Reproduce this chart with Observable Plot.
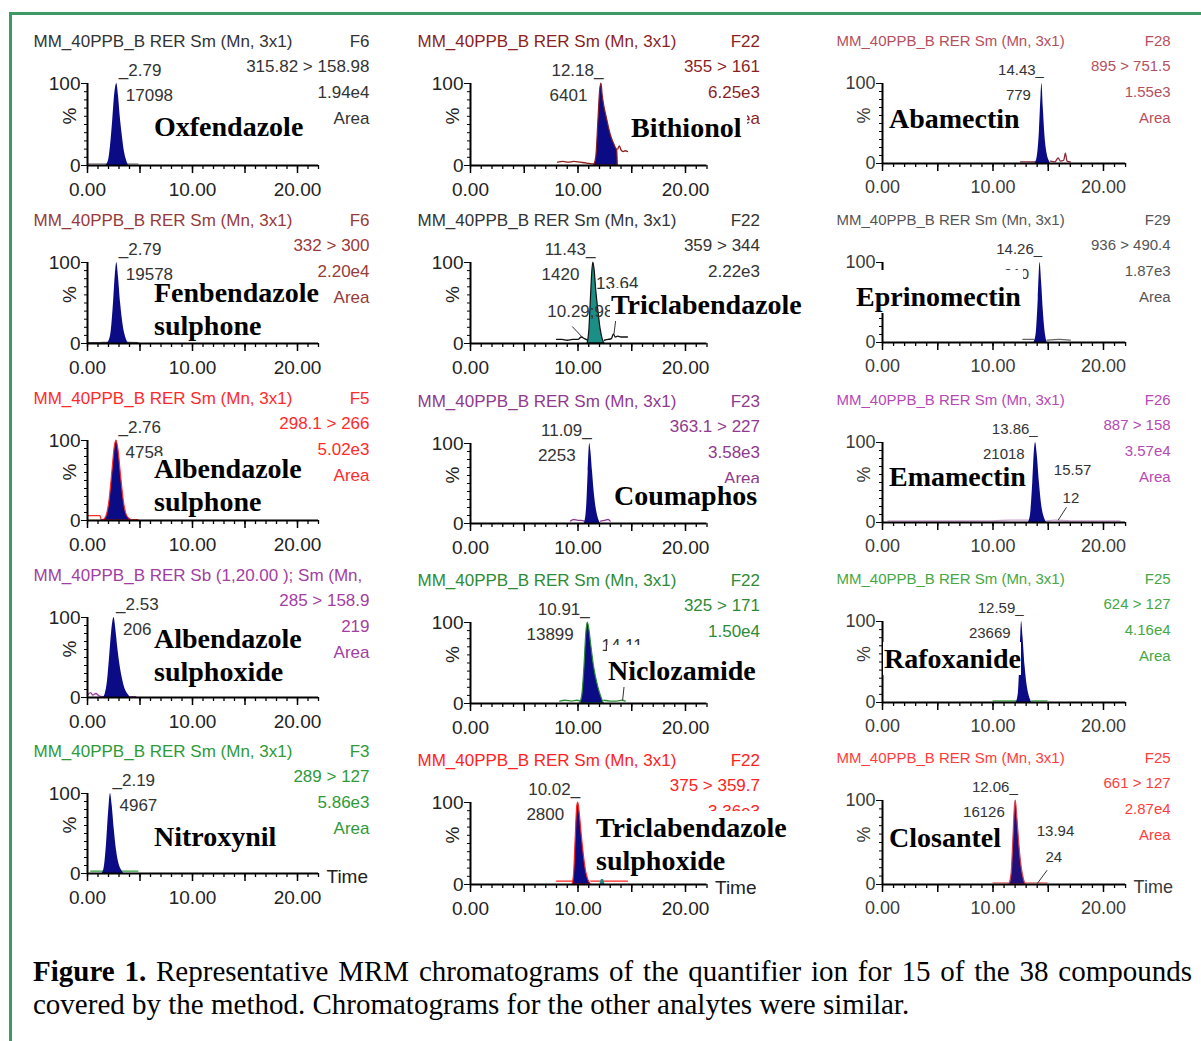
<!DOCTYPE html>
<html><head><meta charset="utf-8">
<script src="https://cdn.jsdelivr.net/npm/d3@7"></script>
<script src="https://cdn.jsdelivr.net/npm/@observablehq/plot@0.6"></script>
<style>
body{margin:0;background:#fff;}
#fig{position:relative;width:1201px;height:1041px;overflow:hidden;background:#fff;}
#frame{position:absolute;left:9px;top:12px;width:1200px;height:1100px;border-left:3px solid #3e9a63;border-top:3px solid #3e9a63;}
.name{position:absolute;font-family:"Liberation Serif","Times New Roman",serif;font-weight:bold;font-size:28px;line-height:33px;background:#fff;color:#000;white-space:nowrap;padding:0 6px 0 1px;}
.cap{position:absolute;left:33px;width:1159px;font-family:"Liberation Serif","Times New Roman",serif;font-size:29px;line-height:33px;color:#000;white-space:nowrap;}
</style></head><body><div id="fig"><div id="frame"></div></div>
<script>
// ---------- DATA ----------
const compounds = ["Oxfendazole","Fenbendazole sulphone","Albendazole sulphone","Albendazole sulphoxide","Nitroxynil",
  "Bithionol","Triclabendazole","Coumaphos","Niclozamide","Triclabendazole sulphoxide",
  "Abamectin","Eprinomectin","Emamectin","Rafoxanide","Closantel"];
const stdTitle = "MM_40PPB_B RER Sm (Mn, 3x1)";
const titles = [stdTitle, stdTitle, stdTitle, "MM_40PPB_B RER Sb (1,20.00 ); Sm (Mn,", stdTitle,
  stdTitle, stdTitle, stdTitle, stdTitle, stdTitle,
  stdTitle, stdTitle, stdTitle, stdTitle, stdTitle];
const functionIds = ["F6","F6","F5","","F3","F22","F22","F23","F22","F22","F28","F29","F26","F25","F25"];
const transitions = ["315.82 > 158.98","332 > 300","298.1 > 266","285 > 158.9","289 > 127",
  "355 > 161","359 > 344","363.1 > 227","325 > 171","375 > 359.7",
  "895 > 751.5","936 > 490.4","887 > 158","624 > 127","661 > 127"];
const intensities = ["1.94e4","2.20e4","5.02e3","219","5.86e3","6.25e3","2.22e3","3.58e3","1.50e4","3.36e3",
  "1.55e3","1.87e3","3.57e4","4.16e4","2.87e4"];
const scaleWord = "Area";
const apexTimes = [2.79,2.79,2.76,2.53,2.19,12.18,11.43,11.09,10.91,10.02,14.43,14.26,13.86,12.59,12.06];
const apexCounts = ["17098","19578","4758","206","4967","6401","1420","2253","13899","2800","779","910","21018","23669","16126"];

// peaks: [time (min), relative intensity (%)]
const peakOxfendazole = [[1.75,0],[2.0,6],[2.2,25],[2.4,55],[2.6,88],[2.79,100],[2.95,85],[3.1,62],[3.3,38],[3.5,18],[3.7,7],[3.9,0]];
const peakFenbendazoleSulphone = [[1.9,0],[2.2,10],[2.45,45],[2.65,85],[2.79,100],[2.95,82],[3.15,50],[3.4,22],[3.65,7],[3.9,0]];
const peakAlbendazoleSulphone = [[1.5,0],[1.8,5],[2.1,25],[2.4,65],[2.6,92],[2.76,100],[2.95,88],[3.2,55],[3.45,25],[3.7,8],[4.0,2],[4.3,0]];
const peakAlbendazoleSulphoxide = [[1.5,0],[1.7,5],[1.9,20],[2.1,50],[2.3,82],[2.53,100],[2.7,85],[2.9,60],[3.1,40],[3.35,22],[3.6,10],[3.85,4],[4.1,0]];
const peakNitroxynil = [[1.4,0],[1.6,8],[1.8,35],[2.0,75],[2.19,100],[2.35,85],[2.55,55],[2.75,30],[3.0,12],[3.25,4],[3.45,0]];
const peakBithionol = [[11.5,0],[11.7,10],[11.9,55],[12.05,90],[12.18,100],[12.3,85],[12.45,72],[12.65,60],[12.9,45],[13.1,35],[13.3,28],[13.5,22],[13.65,18],[13.7,0]];
const peakTriclabendazole = [[10.9,0],[11.05,15],[11.2,55],[11.35,92],[11.43,100],[11.55,90],[11.7,65],[11.9,40],[12.1,18],[12.3,5],[12.45,0]];
const peakCoumaphos = [[10.6,0],[10.8,20],[10.95,65],[11.09,100],[11.2,90],[11.35,65],[11.5,40],[11.7,18],[11.9,6],[12.1,0]];
const peakNiclozamide = [[10.2,0],[10.4,10],[10.6,45],[10.78,88],[10.91,100],[11.05,92],[11.25,70],[11.5,45],[11.75,28],[12.0,15],[12.2,7],[12.4,0]];
const peakTriclabendazoleSulphoxide = [[9.5,0],[9.65,15],[9.8,60],[9.93,95],[10.02,100],[10.15,88],[10.35,60],[10.55,35],[10.75,16],[10.95,6],[11.2,0]];
const peakAbamectin = [[13.8,0],[14.0,8],[14.2,40],[14.35,85],[14.43,100],[14.55,70],[14.7,35],[14.9,12],[15.1,3],[15.2,0]];
const peakEprinomectin = [[13.7,0],[13.9,10],[14.1,55],[14.26,100],[14.4,75],[14.55,40],[14.7,15],[14.9,0]];
const peakEmamectin = [[13.2,0],[13.4,10],[13.6,50],[13.75,90],[13.86,100],[14.0,85],[14.2,50],[14.4,22],[14.6,8],[14.85,0]];
const peakRafoxanide = [[12.1,0],[12.3,12],[12.45,55],[12.59,100],[12.72,80],[12.9,45],[13.1,20],[13.3,7],[13.5,0]];
const peakClosantel = [[11.5,0],[11.7,15],[11.85,55],[12.0,95],[12.06,100],[12.2,80],[12.4,45],[12.6,20],[12.8,6],[12.95,0]];
const minorPeakTriclabendazoleSulphoxide = [[12.05,0],[12.2,6],[12.35,6],[12.5,0]];

// raw traces outside the integrated peak (null = gap)
const traceOxfendazole = [[0.1,2],[1.0,2],[2.0,2],[3.0,2],[3.9,2],[4.8,2]];
const traceFenbendazoleSulphone = [[0.1,1],[1.0,1],[1.9,1.5],[3.9,1.5],[4.8,1]];
const traceAlbendazoleSulphone = [[0.0,6],[1.2,6],[1.3,1],[1.5,1],null,[4.3,1],[4.8,1]];
const traceAlbendazoleSulphoxide = [[0.0,3],[0.3,6],[0.5,3],[0.8,5],[1.1,2],[1.5,1],null,[4.1,1],[4.6,1]];
const traceNitroxynil = [[0.3,3],[1.4,3],[2.5,3],[3.45,3],[4.8,3]];
const traceBithionol = [[8.1,4],[8.6,5],[9.1,4],[9.6,5],[10.2,4],[10.8,3],[11.3,2],[11.5,2],null,[13.7,20],[13.85,24],[14.0,19],[14.2,17],[14.4,18],[14.6,17]];
const traceTriclabendazole = [[8.0,5],[8.5,5],[9.0,4],[9.5,5],[10.0,5],[10.3,8],[10.6,6],[10.9,4],null,[12.45,4],[12.8,5],[13.1,6],[13.3,12],[13.45,8],[13.7,9],[14.0,8],[14.6,8]];
const traceCoumaphos = [[9.3,3],[9.6,5],[10.0,4],[10.3,4],[10.6,3],null,[12.1,3],[12.5,4],[12.8,5],[13.0,3]];
const traceNiclozamide = [[8.3,3],[8.8,4],[9.4,3],[9.9,4],[10.2,3],null,[12.4,4],[13.0,3],[13.6,3],[14.1,4],[14.4,3]];
const traceTriclabendazoleSulphoxide = [[8.0,4],[9.0,4],[9.5,4],null,[11.2,4],[12.0,4],[12.5,4],[13.5,4],[14.6,4]];
const traceAbamectin = [[12.5,2],[13.8,2],null,[15.2,3],[15.6,2],[15.9,7],[16.1,3],[16.4,4],[16.55,13],[16.7,3],[17.0,2]];
const traceEprinomectin = [[12.7,4],[13.7,4],null,[14.9,3],[16.0,4],[17.0,3]];
const traceEmamectin = [[0.5,2],[5.0,2],[10.0,2],[11.5,3],[13.2,3],null,[14.85,2],[15.6,3],[17.0,2],[21.5,2]];
const traceRafoxanide = [[10.0,2],[11.0,2],[12.1,2],null,[13.5,2],[14.9,2]];
const traceClosantel = [[10.0,2],[11.0,2],[11.5,2],null,[12.95,2],[14.0,2],[14.9,2]];

const peaks = [peakOxfendazole,peakFenbendazoleSulphone,peakAlbendazoleSulphone,peakAlbendazoleSulphoxide,peakNitroxynil,
  peakBithionol,peakTriclabendazole,peakCoumaphos,peakNiclozamide,peakTriclabendazoleSulphoxide,
  peakAbamectin,peakEprinomectin,peakEmamectin,peakRafoxanide,peakClosantel];
const traces = [traceOxfendazole,traceFenbendazoleSulphone,traceAlbendazoleSulphone,traceAlbendazoleSulphoxide,traceNitroxynil,
  traceBithionol,traceTriclabendazole,traceCoumaphos,traceNiclozamide,traceTriclabendazoleSulphoxide,
  traceAbamectin,traceEprinomectin,traceEmamectin,traceRafoxanide,traceClosantel];

const xMinorTicks = [0,1,2,3,4,5,6,7,8,9,10,11,12,13,14,15,16,17,18,19,20,21,22];
const xMajorTicks = [0,5,10,15,20];
const xTickLabels = [0,10,20];
const yTickLabels = [0,100];
const yMinorTicks = [0,10,20,30,40,50,60,70,80,90,100];

// secondary peak labels and their leader lines
const minorLabels = [
  {panel:6, t:10.22, v:40, text:"10.29;98", anchor:"end"},
  {panel:6, t:13.65, v:74, text:"13.64", anchor:"start"},
  {panel:8, t:14.1, v:72, text:"14.11", anchor:"start"},
  {panel:12, t:17.2, v:65, text:"15.57", anchor:"middle"},
  {panel:12, t:17.05, v:31, text:"12", anchor:"middle"},
  {panel:14, t:15.66, v:64, text:"13.94", anchor:"middle"},
  {panel:14, t:15.5, v:32, text:"24", anchor:"middle"}
];
const leaders = [
  {panel:6, t1:9.46, v1:21, t2:10.39, v2:8},
  {panel:6, t1:13.35, v1:12, t2:13.8, v2:60},
  {panel:8, t1:14.15, v1:4, t2:14.6, v2:60},
  {panel:12, t1:15.9, v1:3, t2:16.65, v2:19},
  {panel:14, t1:14.0, v1:1, t2:14.9, v2:17}
];

// ---------- LAYOUT & STYLE ----------
const layout = [
  {ax:87,ppm:10.5,y100:83,y0:165},{ax:87,ppm:10.5,y100:262,y0:343},{ax:87,ppm:10.5,y100:440,y0:520},{ax:87,ppm:10.5,y100:617,y0:697},{ax:87,ppm:10.5,y100:793,y0:873},
  {ax:470,ppm:10.75,y100:83,y0:165},{ax:470,ppm:10.75,y100:262,y0:343},{ax:470,ppm:10.75,y100:443,y0:523},{ax:470,ppm:10.75,y100:622,y0:703},{ax:470,ppm:10.75,y100:802,y0:884},
  {ax:882,ppm:11.05,y100:83,y0:163},{ax:882,ppm:11.05,y100:262,y0:342},{ax:882,ppm:11.05,y100:442,y0:522},{ax:882,ppm:11.05,y100:621,y0:702},{ax:882,ppm:11.05,y100:800,y0:884}
];
const colStyle = [
  {titleDx:-54, rightDx:51, fs:17, tfs:19, ink:"#222", timeAnchor:"start", timeDx:2, countAnchor:"start", countDx:9, timeFmt:t=>"_"+t.toFixed(2)},
  {titleDx:-53, rightDx:53, fs:17, tfs:19, ink:"#222", timeAnchor:"end", timeDx:2, countAnchor:"end", countDx:-14, timeFmt:t=>t.toFixed(2)+"_"},
  {titleDx:-46, rightDx:45, fs:15, tfs:18, ink:"#3a3a3a", timeAnchor:"end", timeDx:2, countAnchor:"end", countDx:-11, timeFmt:t=>t.toFixed(2)+"_"}
];
const headerColors = ["#333333","#973a3a","#ff2a2a","#a23ea2","#2e9a38",
  "#8b1f1f","#333333","#8f3a8f","#2e8b35","#ff2222",
  "#b4505e","#555555","#b549b5","#45a845","#ff3d3d"];
const fillColors = ["#0b0b85","#0b0b85","#0b0b85","#0b0b85","#0b0b85",
  "#0b0b85","#1b8f86","#0b0b85","#0b0b85","#0b0b85",
  "#0b0b85","#0b0b85","#0b0b85","#0b0b85","#22107a"];
const outlineColors = ["none","none","#ff2a2a","none","none",
  "#8b1f1f","#111111","none","#2e8b35","#ff2222",
  "none","none","none","none","#d84050"];
const traceColors = ["#8a8a8a","#555555","#ff2a2a","#a23ea2","#2e9a38",
  "#8b1f1f","#111111","#8f3a8f","#2e8b35","#ff2222",
  "#8b2a3a","#666666","#c9a0c9","#45a845","#e87070"];
// name boxes: x, centre y of first line, extra top cover, top clip, right padding
const names = [
  {x:153,y:126,lines:["Oxfendazole"],padTop:0,cut:0,padR:6},
  {x:153,y:292,lines:["Fenbendazole","sulphone"],padTop:0,cut:4,padR:6},
  {x:153,y:468,lines:["Albendazole","sulphone"],padTop:0,cut:4,padR:6},
  {x:153,y:638,lines:["Albendazole","sulphoxide"],padTop:0,cut:0,padR:6},
  {x:153,y:836,lines:["Nitroxynil"],padTop:0,cut:0,padR:6},
  {x:630,y:127,lines:["Bithionol"],padTop:0,cut:0,padR:6},
  {x:610,y:304,lines:["Triclabendazole"],padTop:0,cut:0,padR:6},
  {x:613,y:495,lines:["Coumaphos"],padTop:0,cut:4,padR:6},
  {x:607,y:670,lines:["Niclozamide"],padTop:9,cut:0,padR:6},
  {x:595,y:827,lines:["Triclabendazole","sulphoxide"],padTop:0,cut:0,padR:6},
  {x:888,y:118,lines:["Abamectin"],padTop:0,cut:0,padR:2},
  {x:855,y:296,lines:["Eprinomectin"],padTop:10,cut:0,padR:2},
  {x:888,y:476,lines:["Emamectin"],padTop:0,cut:0,padR:2},
  {x:883,y:658,lines:["Rafoxanide"],padTop:0,cut:0,padR:0},
  {x:888,y:837,lines:["Closantel"],padTop:0,cut:0,padR:2}
];
const font = "'Liberation Sans', Arial, sans-serif";
const fig = document.getElementById("fig");

function headerText(value, anchor, dx, dy, color, fs) {
  return Plot.text([value], {frameAnchor: anchor, dx, dy, text: d => d, lineAnchor: "middle",
    textAnchor: anchor.endsWith("left") ? "start" : "end", fill: color, fontSize: fs});
}

function buildPanel(i) {
  const L = layout[i], col = Math.floor(i / 5), row = i % 5, C = colStyle[col];
  const mL = 60, mR = 70, mT = 50, mB = 42;
  const h = L.y0 - L.y100;
  const width = mL + 22 * L.ppm + mR;
  const hc = headerColors[i];
  const X = d => d ? d[0] : NaN, Y = d => d ? d[1] : NaN;
  const marks = [
    Plot.line(traces[i], {x: X, y: Y, stroke: traceColors[i], strokeWidth: 1.3, curve: "monotone-x"}),
    Plot.areaY(peaks[i], {x: X, y: Y, fill: fillColors[i], stroke: outlineColors[i], strokeWidth: 1.2, curve: "monotone-x"})
  ];
  if (i === 9) marks.push(Plot.areaY(minorPeakTriclabendazoleSulphoxide, {x: X, y: Y, fill: "#1b8f86", curve: "monotone-x"}));
  marks.push(
    Plot.ruleY([0], {stroke: "#000", strokeWidth: 2}),
    Plot.ruleX([0], {stroke: "#000", strokeWidth: 2}),
    Plot.axisX({ticks: xMinorTicks, tickSize: 4, tickFormat: () => "", stroke: "#000", strokeWidth: 1.3}),
    Plot.axisX({ticks: xMajorTicks, tickSize: 8, tickFormat: () => "", stroke: "#000", strokeWidth: 1.5}),
    Plot.axisX({ticks: xTickLabels, tickSize: 0, tickPadding: 17, tickFormat: d => d.toFixed(2), fontSize: C.tfs, fill: C.ink}),
    Plot.axisY({ticks: yMinorTicks, tickSize: 3, tickFormat: () => "", stroke: "#000"}),
    Plot.axisY({ticks: yTickLabels, tickSize: 6, tickPadding: 1, tickFormat: d => String(d), fontSize: C.tfs, fill: C.ink, stroke: "#000"}),
    Plot.text(["%"], {frameAnchor: "left", dx: -18, rotate: -90, text: d => d, fontSize: C.tfs, fill: C.ink}),
    headerText(titles[i], "top-left", C.titleDx, -42, hc, C.fs),
    headerText(functionIds[i], "top-right", C.rightDx, -42, hc, C.fs),
    headerText(transitions[i], "top-right", C.rightDx, -17, hc, C.fs),
    headerText(intensities[i], "top-right", C.rightDx, 9, hc, C.fs),
    headerText(scaleWord, "top-right", C.rightDx, 35, hc, C.fs),
    Plot.text([apexTimes[i]], {x: d => d, y: 100, text: C.timeFmt, textAnchor: C.timeAnchor, dx: C.timeDx, dy: -13, fill: "#333", fontSize: C.fs}),
    Plot.text([apexCounts[i]], {x: apexTimes[i], y: 100, text: d => d, textAnchor: C.countAnchor, dx: C.countDx, dy: 12, fill: "#333", fontSize: C.fs}),
    Plot.text(minorLabels.filter(a => a.panel === i), {x: "t", y: "v", text: "text", textAnchor: d => d.anchor, fill: "#333", fontSize: C.fs}),
    Plot.link(leaders.filter(a => a.panel === i), {x1: "t1", y1: "v1", x2: "t2", y2: "v2", stroke: "#333", strokeWidth: 1})
  );
  if (row === 4) marks.push(Plot.text(["Time"], {frameAnchor: "bottom-right", dx: 8, dy: 3, lineAnchor: "middle", text: d => d, textAnchor: "start", fill: C.ink, fontSize: C.tfs}));
  const svg = Plot.plot({
    width, height: mT + h + mB, marginLeft: mL, marginRight: mR, marginTop: mT, marginBottom: mB,
    x: {domain: [0, 22]}, y: {domain: [0, 100]},
    style: {fontFamily: font, fontSize: C.fs + "px", overflow: "visible", background: "transparent", color: "#000"},
    marks
  });
  svg.style.position = "absolute";
  svg.style.left = (L.ax - mL) + "px";
  svg.style.top = (L.y100 - mT) + "px";
  fig.appendChild(svg);
}
for (let i = 0; i < compounds.length; i++) buildPanel(i);

names.forEach(n => {
  const d = document.createElement("div");
  d.className = "name";
  d.style.left = n.x + "px";
  d.style.top = (n.y - 16 - n.padTop) + "px";
  d.style.paddingTop = n.padTop + "px";
  d.style.paddingRight = n.padR + "px";
  if (n.cut) d.style.clipPath = "inset(" + n.cut + "px 0 0 0)";
  d.innerHTML = n.lines.join("<br>");
  fig.appendChild(d);
});

const cap1 = document.createElement("div");
cap1.className = "cap";
cap1.style.top = "955px";
cap1.style.textAlign = "justify";
cap1.style.textAlignLast = "justify";
cap1.style.whiteSpace = "normal";
cap1.innerHTML = "<b>Figure 1.</b> Representative MRM chromatograms of the quantifier ion for 15 of the 38 compounds";
fig.appendChild(cap1);
const cap2 = document.createElement("div");
cap2.className = "cap";
cap2.style.top = "988px";
cap2.textContent = "covered by the method. Chromatograms for the other analytes were similar.";
fig.appendChild(cap2);
</script></body></html>
